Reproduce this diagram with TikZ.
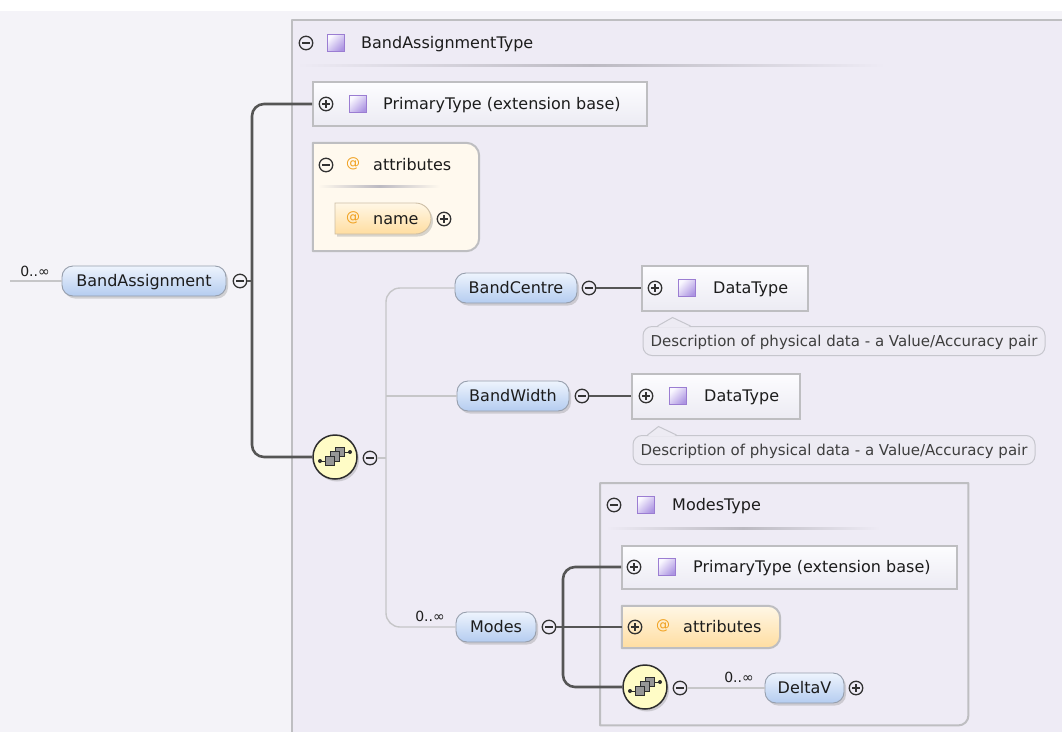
\documentclass[tikz,border=0pt]{standalone}
\usepackage{fontspec}
\setmainfont{DejaVu Sans}
\usetikzlibrary{calc,shadows,shapes.misc}

\definecolor{pagebg}{RGB}{244,243,248}
\definecolor{boxbg}{RGB}{238,235,245}
\definecolor{boxline}{RGB}{190,190,193}
\definecolor{sepmid}{RGB}{188,186,194}
\definecolor{trunk}{RGB}{85,85,85}
\definecolor{branch}{RGB}{198,198,200}
\definecolor{eltop}{RGB}{238,244,253}
\definecolor{elbot}{RGB}{180,204,240}
\definecolor{elline}{RGB}{150,158,172}
\definecolor{txt}{RGB}{28,28,28}
\definecolor{btn}{RGB}{50,50,50}
\definecolor{sqline}{RGB}{155,125,210}
\definecolor{sqtop}{RGB}{250,248,255}
\definecolor{sqbot}{RGB}{172,148,226}
\definecolor{attrbg}{RGB}{255,249,238}
\definecolor{ortop}{RGB}{255,247,230}
\definecolor{orbot}{RGB}{255,221,160}
\definecolor{orline}{RGB}{205,190,165}
\definecolor{atsign}{RGB}{240,160,30}
\definecolor{seqfill}{RGB}{255,252,198}
\definecolor{seqline}{RGB}{45,45,45}
\definecolor{glyphgray}{RGB}{150,150,150}
\definecolor{descfill}{RGB}{237,235,243}
\definecolor{descline}{RGB}{198,198,205}
\definecolor{typetop}{RGB}{253,253,255}
\definecolor{typebot}{RGB}{236,235,243}

\newcommand\mainsz{\fontsize{16}{19}\selectfont}
\newcommand\descsz{\fontsize{15}{18}\selectfont}
\newcommand\occsz{\fontsize{14}{16}\selectfont}

\tikzset{
  elem/.style={rounded corners=11pt, draw=elline, line width=0.9pt,
    top color=eltop, bottom color=elbot, minimum height=30pt, inner sep=0pt,
    font=\mainsz, text=txt, text height=11.6pt, text depth=0pt,
    drop shadow={shadow xshift=2pt, shadow yshift=-2.5pt, opacity=0.3}},
  colbtn/.style={circle, draw=btn, line width=1.3pt, minimum size=13.5pt, inner sep=0pt,
    path picture={\draw[btn, line width=1.4pt]
      ($(path picture bounding box.center)+(-3.6,0)$) -- ($(path picture bounding box.center)+(3.6,0)$);}},
  expbtn/.style={circle, draw=btn, line width=1.3pt, minimum size=13.5pt, inner sep=0pt,
    path picture={\draw[btn, line width=1.4pt]
      ($(path picture bounding box.center)+(-3.6,0)$) -- ($(path picture bounding box.center)+(3.6,0)$)
      ($(path picture bounding box.center)+(0,-3.6)$) -- ($(path picture bounding box.center)+(0,3.6)$);}},
  typeicon/.style={draw=sqline, line width=1.2pt, minimum size=17pt, inner sep=0pt,
    top color=sqtop, bottom color=sqbot, shading angle=45},
  typebox/.style={draw=boxline, line width=2pt, top color=typetop, bottom color=typebot, inner sep=0pt},
  boxframe/.style={draw=boxline, line width=2pt, line cap=round, line join=round},
  lbl/.style={font=\mainsz, text=txt, inner sep=0pt, anchor=base west},
  atsym/.style={font=\occsz, text=atsign, inner sep=0pt},
  occ/.style={font=\occsz, text=txt, inner sep=0pt},
  desc/.style={rounded corners=9pt, draw=descline, line width=1pt, fill=descfill, inner sep=0pt,
    font=\descsz, text=txt!85, minimum height=29pt, text height=11pt, text depth=0pt},
  seqnode/.style={circle, draw=seqline, line width=1.5pt, fill=seqfill, minimum size=44pt, inner sep=0pt,
    drop shadow={shadow xshift=2pt, shadow yshift=-2.5pt, opacity=0.3}},
  trunkline/.style={draw=trunk, line width=2.6pt, rounded corners=12pt},
  thinline/.style={draw=branch, line width=1.4pt, rounded corners=14pt},
  seqglyph/.pic={
    \draw[seqline, line width=1pt] (-15,4) -- (-9,4);
    \fill[seqline] (-15,4) circle (2pt);
    \draw[seqline, line width=1pt] (9,-5) -- (15,-5);
    \fill[seqline] (15,-5) circle (2pt);
    \foreach \dx/\dy in {5/-5, 0/-0.5, -5/4}
      \draw[seqline, fill=glyphgray, line width=0.9pt] (\dx-4.8,\dy-4.8) rectangle (\dx+4.8,\dy+4.8);
  },
}

\begin{document}
\begin{tikzpicture}[x=1pt,y=-1pt]
\useasboundingbox (0,0) rectangle (1062,731);
\clip (0,0) rectangle (1062,731);
\fill[white] (-5,-5) rectangle (1070,740);
\fill[pagebg] (-5,11) rectangle (1070,740);

% ---------- complex type frame ----------
\node[boxframe, fill=boxbg, minimum width=820pt, minimum height=800pt, inner sep=0pt, anchor=north west]
  (batype) at (291,19) {};
\node[colbtn] (bat-btn) at (306,43) {};
\node[typeicon] (bat-icon) at (336,43) {};
\node[lbl] (bat-lbl) at (361,48.8) {BandAssignmentType};
\shade[left color=boxbg, right color=boxbg, middle color=sepmid] (297,64.5) rectangle (885,66.5);

% extension base
\node[typebox, minimum width=334pt, minimum height=44pt] (pt1) at (480,104) {};
\node[expbtn] (pt1-btn) at (326,104) {};
\node[typeicon] (pt1-icon) at (358,104) {};
\node[lbl] (pt1-lbl) at (383,109.8) {PrimaryType (extension base)};

% attribute group
\node[fill=attrbg, rounded corners=13pt, minimum width=166pt, minimum height=108pt, inner sep=0pt]
  (attr1) at (396,197) {};
\fill[attrbg] (attr1.north west) rectangle (attr1.south);
\draw[boxframe] (attr1.north) [rounded corners=13pt] -- (attr1.north east) -- (attr1.south east)
  -- (attr1.south) [sharp corners] -- (attr1.south west) -- (attr1.north west) -- (attr1.north);
\node[colbtn] (attr1-btn) at (326,165) {};
\node[atsym] (attr1-at) at (353,164) {@};
\node[lbl] (attr1-lbl) at (373,170.8) {attributes};
\shade[left color=attrbg, right color=attrbg, middle color=sepmid] (318,185) rectangle (440,187);
\node[rounded rectangle, rounded rectangle left arc=none, draw=orline, line width=0.9pt,
  top color=ortop, bottom color=orbot, minimum width=96pt, minimum height=31pt, inner sep=0pt,
  drop shadow={shadow xshift=2pt, shadow yshift=-2.5pt, opacity=0.3}] (name) at (383,218.5) {};
\node[atsym] (name-at) at (353,218) {@};
\node[lbl] (name-lbl) at (373,224.3) {name};
\node[expbtn] (name-btn) at (444,219) {};

% ---------- root element ----------
\node[elem, minimum width=164pt] (ba) at (144,281) {BandAssignment};
\node[colbtn] (ba-btn) at (240,281) {};
\node[occ] (ba-occ) at (35,271) {0..∞};
\coordinate (lead) at (10,281);
\draw[thinline] (lead) -- (ba.west);

\coordinate (trunkx) at (252,0);
\coordinate (branchx) at (386,0);

% sequence compositor
\node[seqnode] (seq1) at (335,457) {};
\pic at (seq1) {seqglyph};
\node[colbtn] (seq1-btn) at (370,458) {};

\draw[trunkline] (pt1.west) -- (pt1.west -| trunkx) -- (seq1.west -| trunkx) -- (seq1.west);
\draw[trunkline] (ba-btn.east) -- (ba-btn.east -| trunkx);
\draw[trunkline] ($(attr1.west)+(0,7)$ -| trunkx) -- ($(attr1.west)+(0,7)$);

% ---------- BandCentre ----------
\node[elem, minimum width=122pt] (bc) at (516,288) {BandCentre};
\node[colbtn] (bc-btn) at (589,288) {};
\node[typebox, minimum width=166pt, minimum height=45pt] (dt1) at (725,288) {};
\node[expbtn] (dt1-btn) at (655,288) {};
\node[typeicon] (dt1-icon) at (687,288) {};
\node[lbl] (dt1-lbl) at (713,293.8) {DataType};
\draw[trunkline] (bc-btn.east) -- (dt1.west);

\node[desc, minimum width=402pt] (d1) at (844,341) {Description of physical data - a Value/Accuracy pair};
\fill[descfill] ($(d1.north west)+(15,1.2)$) -- ($(d1.north west)+(30,-8.5)$) -- ($(d1.north west)+(48,1.2)$) -- cycle;
\draw[descline, line width=1pt] ($(d1.north west)+(15,0)$) -- ($(d1.north west)+(30,-8.5)$) -- ($(d1.north west)+(48,0)$);

% ---------- BandWidth ----------
\node[elem, minimum width=112pt] (bw) at (513,396) {BandWidth};
\node[colbtn] (bw-btn) at (582,396) {};
\node[typebox, minimum width=168pt, minimum height=45pt] (dt2) at (716,396) {};
\node[expbtn] (dt2-btn) at (646,396) {};
\node[typeicon] (dt2-icon) at (678,396) {};
\node[lbl] (dt2-lbl) at (704,401.8) {DataType};
\draw[trunkline] (bw-btn.east) -- (dt2.west);

\node[desc, minimum width=402pt] (d2) at (834,450) {Description of physical data - a Value/Accuracy pair};
\fill[descfill] ($(d2.north west)+(15,1.2)$) -- ($(d2.north west)+(26,-8.5)$) -- ($(d2.north west)+(44,1.2)$) -- cycle;
\draw[descline, line width=1pt] ($(d2.north west)+(15,0)$) -- ($(d2.north west)+(26,-8.5)$) -- ($(d2.north west)+(44,0)$);

% ---------- Modes ----------
\node[fill=boxbg, minimum width=368pt, minimum height=242pt, inner sep=0pt, anchor=north west]
  (modesT) at (600,483) {};
\draw[boxframe] (modesT.south) -- (modesT.south west) -- (modesT.north west) -- (modesT.north east)
  -- (modesT.east) [rounded corners=10pt] -- (modesT.south east) -- (modesT.south);
\node[colbtn] (mt-btn) at (614,505) {};
\node[typeicon] (mt-icon) at (646,505) {};
\node[lbl] (mt-lbl) at (672,510.8) {ModesType};
\shade[left color=boxbg, right color=boxbg, middle color=sepmid] (606,527) rectangle (880,529);

\node[typebox, minimum width=335pt, minimum height=43pt] (pt2) at (789.5,567) {};
\node[expbtn] (pt2-btn) at (634,567) {};
\node[typeicon] (pt2-icon) at (667,567) {};
\node[lbl] (pt2-lbl) at (693,572.8) {PrimaryType (extension base)};

\node[top color=ortop, bottom color=orbot, rounded corners=12pt, minimum width=158pt, minimum height=42pt,
  inner sep=0pt] (attr2) at (701,627) {};
\shade[top color=ortop, bottom color=orbot] (attr2.north west) rectangle (attr2.south);
\draw[boxframe] (attr2.north) [rounded corners=12pt] -- (attr2.north east) -- (attr2.south east)
  -- (attr2.south) [sharp corners] -- (attr2.south west) -- (attr2.north west) -- (attr2.north);
\node[expbtn] (attr2-btn) at (635,627) {};
\node[atsym] (attr2-at) at (663,626) {@};
\node[lbl] (attr2-lbl) at (683,632.8) {attributes};

\node[elem, minimum width=80pt] (modes) at (496,627) {Modes};
\node[colbtn] (modes-btn) at (549,627) {};
\node[occ] (modes-occ) at (430,616) {0..∞};

\node[seqnode] (seq2) at (645,687) {};
\pic at (seq2) {seqglyph};
\node[colbtn] (seq2-btn) at (680,688) {};

\coordinate (modesx) at (563,0);
\draw[trunkline] (pt2.west) -- (pt2.west -| modesx) -- (seq2.west -| modesx) -- (seq2.west);
\draw[trunkline] (modes-btn.east) -- (attr2.west);

\node[elem, minimum width=79pt] (dv) at (804.5,688) {DeltaV};
\node[expbtn] (dv-btn) at (856,688) {};
\node[occ] (dv-occ) at (739,677) {0..∞};
\draw[thinline] (seq2-btn.east) -- (dv.west);

% sequence branches
\draw[thinline] (seq1-btn.east) -- (seq1-btn.east -| branchx);
\draw[thinline] (bc.west) -- (bc.west -| branchx) -- (modes.west -| branchx) -- (modes.west);
\draw[thinline] (bw.west) -- (bw.west -| branchx);
\end{tikzpicture}
\end{document}
